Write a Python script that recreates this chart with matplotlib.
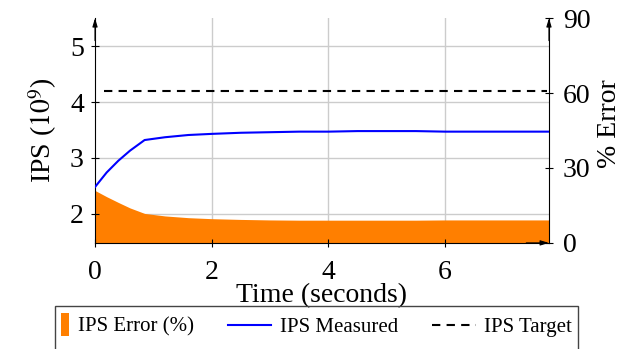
import matplotlib
matplotlib.use('Agg')
import matplotlib.pyplot as plt
from matplotlib.patches import Patch, Rectangle
from matplotlib.lines import Line2D
from matplotlib.legend_handler import HandlerPatch

plt.rcParams['font.family'] = ['Liberation Serif', 'DejaVu Serif']
plt.rcParams['mathtext.fontset'] = 'stix'

# data
time = [0, 0.2, 0.4, 0.6, 0.85, 1.2, 1.6, 2.0, 2.5, 3.0, 3.5, 4.0, 4.5,
        5.0, 5.5, 6.0, 6.5, 7.0, 7.5, 7.8]
ips_measured = [2.48, 2.74, 2.95, 3.13, 3.32, 3.37, 3.41, 3.43, 3.45, 3.46,
                3.47, 3.47, 3.48, 3.48, 3.48, 3.47, 3.47, 3.47, 3.47, 3.47]
ips_error = [21.0, 18.5, 16.2, 14.0, 11.8, 10.8, 10.1, 9.7, 9.4, 9.2,
             9.1, 9.1, 9.1, 9.1, 9.1, 9.2, 9.2, 9.2, 9.2, 9.2]
ips_target = 4.2

x_ticks = [0, 2, 4, 6]
left_ticks = [2, 3, 4, 5]
right_ticks = [0, 30, 60, 90]

orange = '#ff7f00'
fs = 20

fig = plt.figure(figsize=(6.21, 3.49), dpi=100)
ax = fig.add_axes([0.153, 0.304, 0.731, 0.644])
ax2 = ax.twinx()

ax.set_zorder(ax2.get_zorder() + 1)
ax.patch.set_visible(False)

ax2.fill_between(time, 0, ips_error, color=orange, lw=0, zorder=2)
ax.plot(time, ips_measured, color='blue', lw=1.5, zorder=3)
ax.axhline(ips_target, xmin=0.02, xmax=0.995, color='black', ls=(0, (4, 3)),
           lw=1.5, zorder=3)

ax.set_xlim(0, 7.78)
ax.set_ylim(1.48, 5.5)
ax2.set_ylim(0, 90)

ax.set_xticks(x_ticks)
ax.set_yticks(left_ticks)
ax2.set_yticks(right_ticks)

ax2.grid(False)
for t in x_ticks[1:]:
    ax2.axvline(t, color='#cccccc', lw=1, zorder=1)
for t in left_ticks:
    ax2.axhline((t - 1.48) / (5.5 - 1.48) * 90, color='#cccccc', lw=1, zorder=1)

for a in (ax, ax2):
    a.spines['top'].set_visible(False)
    a.tick_params(direction='inout', length=6, width=0.8, labelsize=fs, pad=5)
ax.tick_params(axis='x', pad=9)
ax2.tick_params(axis='y', pad=7)
ax.spines['right'].set_visible(False)
ax2.spines['left'].set_visible(False)
ax2.spines['bottom'].set_visible(False)

ax.set_ylabel('IPS ($10^9$)', fontsize=fs, labelpad=8)
ax.set_xlabel('Time (seconds)', fontsize=fs, labelpad=-1)
ax2.set_ylabel('% Error', fontsize=fs)
ax2.yaxis.set_label_coords(1.106, 0.53)

# axis arrows
arrow = dict(arrowstyle='-|>,head_length=0.5,head_width=0.15', color='black',
             lw=0.8, shrinkA=0, shrinkB=0)
ax.annotate('', xy=(0, 1.0), xytext=(0, 0.9), xycoords='axes fraction',
            arrowprops=arrow)
ax.annotate('', xy=(1, 1.0), xytext=(1, 0.9), xycoords='axes fraction',
            arrowprops=arrow)
ax.annotate('', xy=(1.0, 0), xytext=(0.95, 0), xycoords='axes fraction',
            arrowprops=arrow)


class TallPatch(HandlerPatch):
    def create_artists(self, legend, orig_handle, xdescent, ydescent, width,
                       height, fontsize, trans):
        r = Rectangle((width - 6 - xdescent, -ydescent - 3), 6, height + 6,
                      facecolor=orange, edgecolor='none', transform=trans)
        return [r]


handles = [Patch(color=orange),
           Line2D([], [], color='blue', lw=1.5),
           Line2D([], [], color='black', lw=1.5, ls=(0, (4, 3)))]
labels = ['IPS Error (%)', 'IPS Measured', 'IPS Target']
leg = fig.legend(handles, labels, loc='center left',
                 bbox_to_anchor=(0.041, 0.063), borderaxespad=0, borderpad=0,
                 ncol=3, frameon=False, fontsize=15, handlelength=2.1,
                 columnspacing=1.63, handletextpad=0.4,
                 handler_map={Patch: TallPatch()})
fig.patches.append(Rectangle((0.089, -0.05), 0.842, 0.173,
                             transform=fig.transFigure, fill=False,
                             edgecolor='#444444', lw=1))

fig.savefig('out.png', dpi=100)
